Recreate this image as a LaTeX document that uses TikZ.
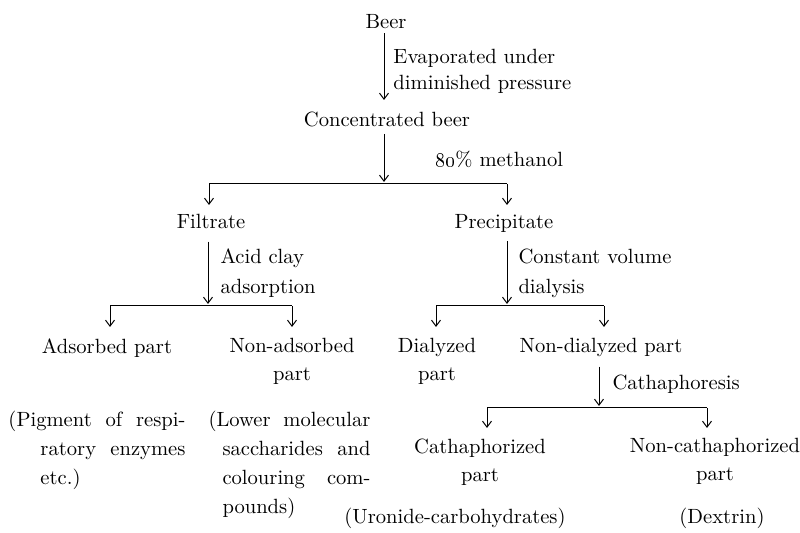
\documentclass[tikz,border=0pt]{standalone}
\usepackage{amsmath}
\usetikzlibrary{arrows.meta,positioning}
\tikzset{>={Straight Barb[length=3pt,width=4.5pt]}}

\begin{document}
\begin{tikzpicture}[x=0.5pt,y=-0.5pt,line width=0.5pt,
	stage/.style={anchor=north,inner sep=0pt,align=center,font=\fontsize{10.3}{14}\selectfont},
	tlabel/.style={anchor=north west,inner sep=0pt,align=left,font=\fontsize{10.3}{13}\selectfont},
	remark/.style={anchor=north west,inner sep=0pt,align=left,font=\fontsize{10.3}{14.5}\selectfont}]
	\useasboundingbox (0,0) rectangle (800,533);
	\node[stage] (beer) at (386,14) {Beer};
	\node[stage] (conc) at (387,111) {Concentrated beer};
	\node[stage] (filt) at (211,214) {Filtrate};
	\node[stage] (prec) at (504,214) {Precipitate};
	\node[stage] (ads) at (107,338) {Adsorbed part};
	\node[stage] (nonads) at (292,338) {Non-adsorbed\\part};
	\node[stage] (dial) at (437,338) {Dialyzed\\part};
	\node[stage] (nondial) at (601,338) {Non-dialyzed part};
	\node[stage] (cathz) at (480,438) {Cathaphorized\\part};
	\node[stage] (noncath) at (715,438) {Non-cathaphorized\\part};
	\node[stage] (uron) at (455,508) {(Uronide-carbohydrates)};
	\node[stage] (dext) at (722,508) {(Dextrin)};
	\node[remark] (pigm) at (8,411) {\makebox[88.5pt][s]{(Pigment of respi-}\\
		\hspace*{16pt}\makebox[72.5pt][s]{ratory enzymes}\\
		\hspace*{16pt}etc.)};
	\node[remark] (lower) at (208,411) {\makebox[81pt][s]{(Lower molecular}\\
		\hspace*{7pt}\makebox[74pt][s]{saccharides and}\\
		\hspace*{7pt}\makebox[74pt][s]{colouring com-}\\
		\hspace*{7pt}pounds)};
	\node[tlabel] (evap) at (393,49) {Evaporated under\\diminished pressure};
	\node[tlabel] (meth) at (435,151) {\oldstylenums{80}\% methanol};
	\node[tlabel,font=\fontsize{10.3}{15}\selectfont] (acid) at (220,248) {Acid clay\\adsorption};
	\node[tlabel,font=\fontsize{10.3}{15}\selectfont] (dialy) at (518,248) {Constant volume\\dialysis};
	\node[tlabel] (catha) at (612,374) {Cathaphoresis};
	\coordinate (j1) at (384,184);
	\coordinate (j1l) at (209,184);
	\coordinate (j1r) at (507,184);
	\coordinate (j2) at (208,306);
	\coordinate (j2l) at (110,306);
	\coordinate (j2r) at (292,306);
	\coordinate (j3) at (507,306);
	\coordinate (j3l) at (436,306);
	\coordinate (j3r) at (604,306);
	\coordinate (j4) at (599,408);
	\coordinate (j4l) at (487,408);
	\coordinate (j4r) at (707,408);
	\draw[->,shorten <=2pt,shorten >=5.5pt] (beer.south -| j1) -- (conc.north -| j1);
	\draw[->,shorten <=3.5pt,shorten >=1pt] (conc.south -| j1) -- (j1);
	\draw[->,shorten <=6pt,shorten >=1pt] (filt.south -| j2) -- (j2);
	\draw[->,shorten <=4pt,shorten >=1pt] (prec.south -| j3) -- (j3);
	\draw[->,shorten <=4.5pt,shorten >=1pt] (nondial.south -| j4) -- (j4);
	\draw (j1l) -- (j1r);
	\draw (j2l) -- (j2r);
	\draw (j3l) -- (j3r);
	\draw (j4l) -- (j4r);
	\draw[->,shorten >=4.5pt] (j1l) -- (j1l |- filt.north);
	\draw[->,shorten >=4.5pt] (j1r) -- (j1r |- prec.north);
	\draw[->,shorten >=5.5pt] (j2l) -- (j2l |- ads.north);
	\draw[->,shorten >=5.5pt] (j2r) -- (j2r |- nonads.north);
	\draw[->,shorten >=5.5pt] (j3l) -- (j3l |- dial.north);
	\draw[->,shorten >=5.5pt] (j3r) -- (j3r |- nondial.north);
	\draw[->,shorten >=5pt] (j4l) -- (j4l |- cathz.north);
	\draw[->,shorten >=5pt] (j4r) -- (j4r |- noncath.north);
\end{tikzpicture}
\end{document}
